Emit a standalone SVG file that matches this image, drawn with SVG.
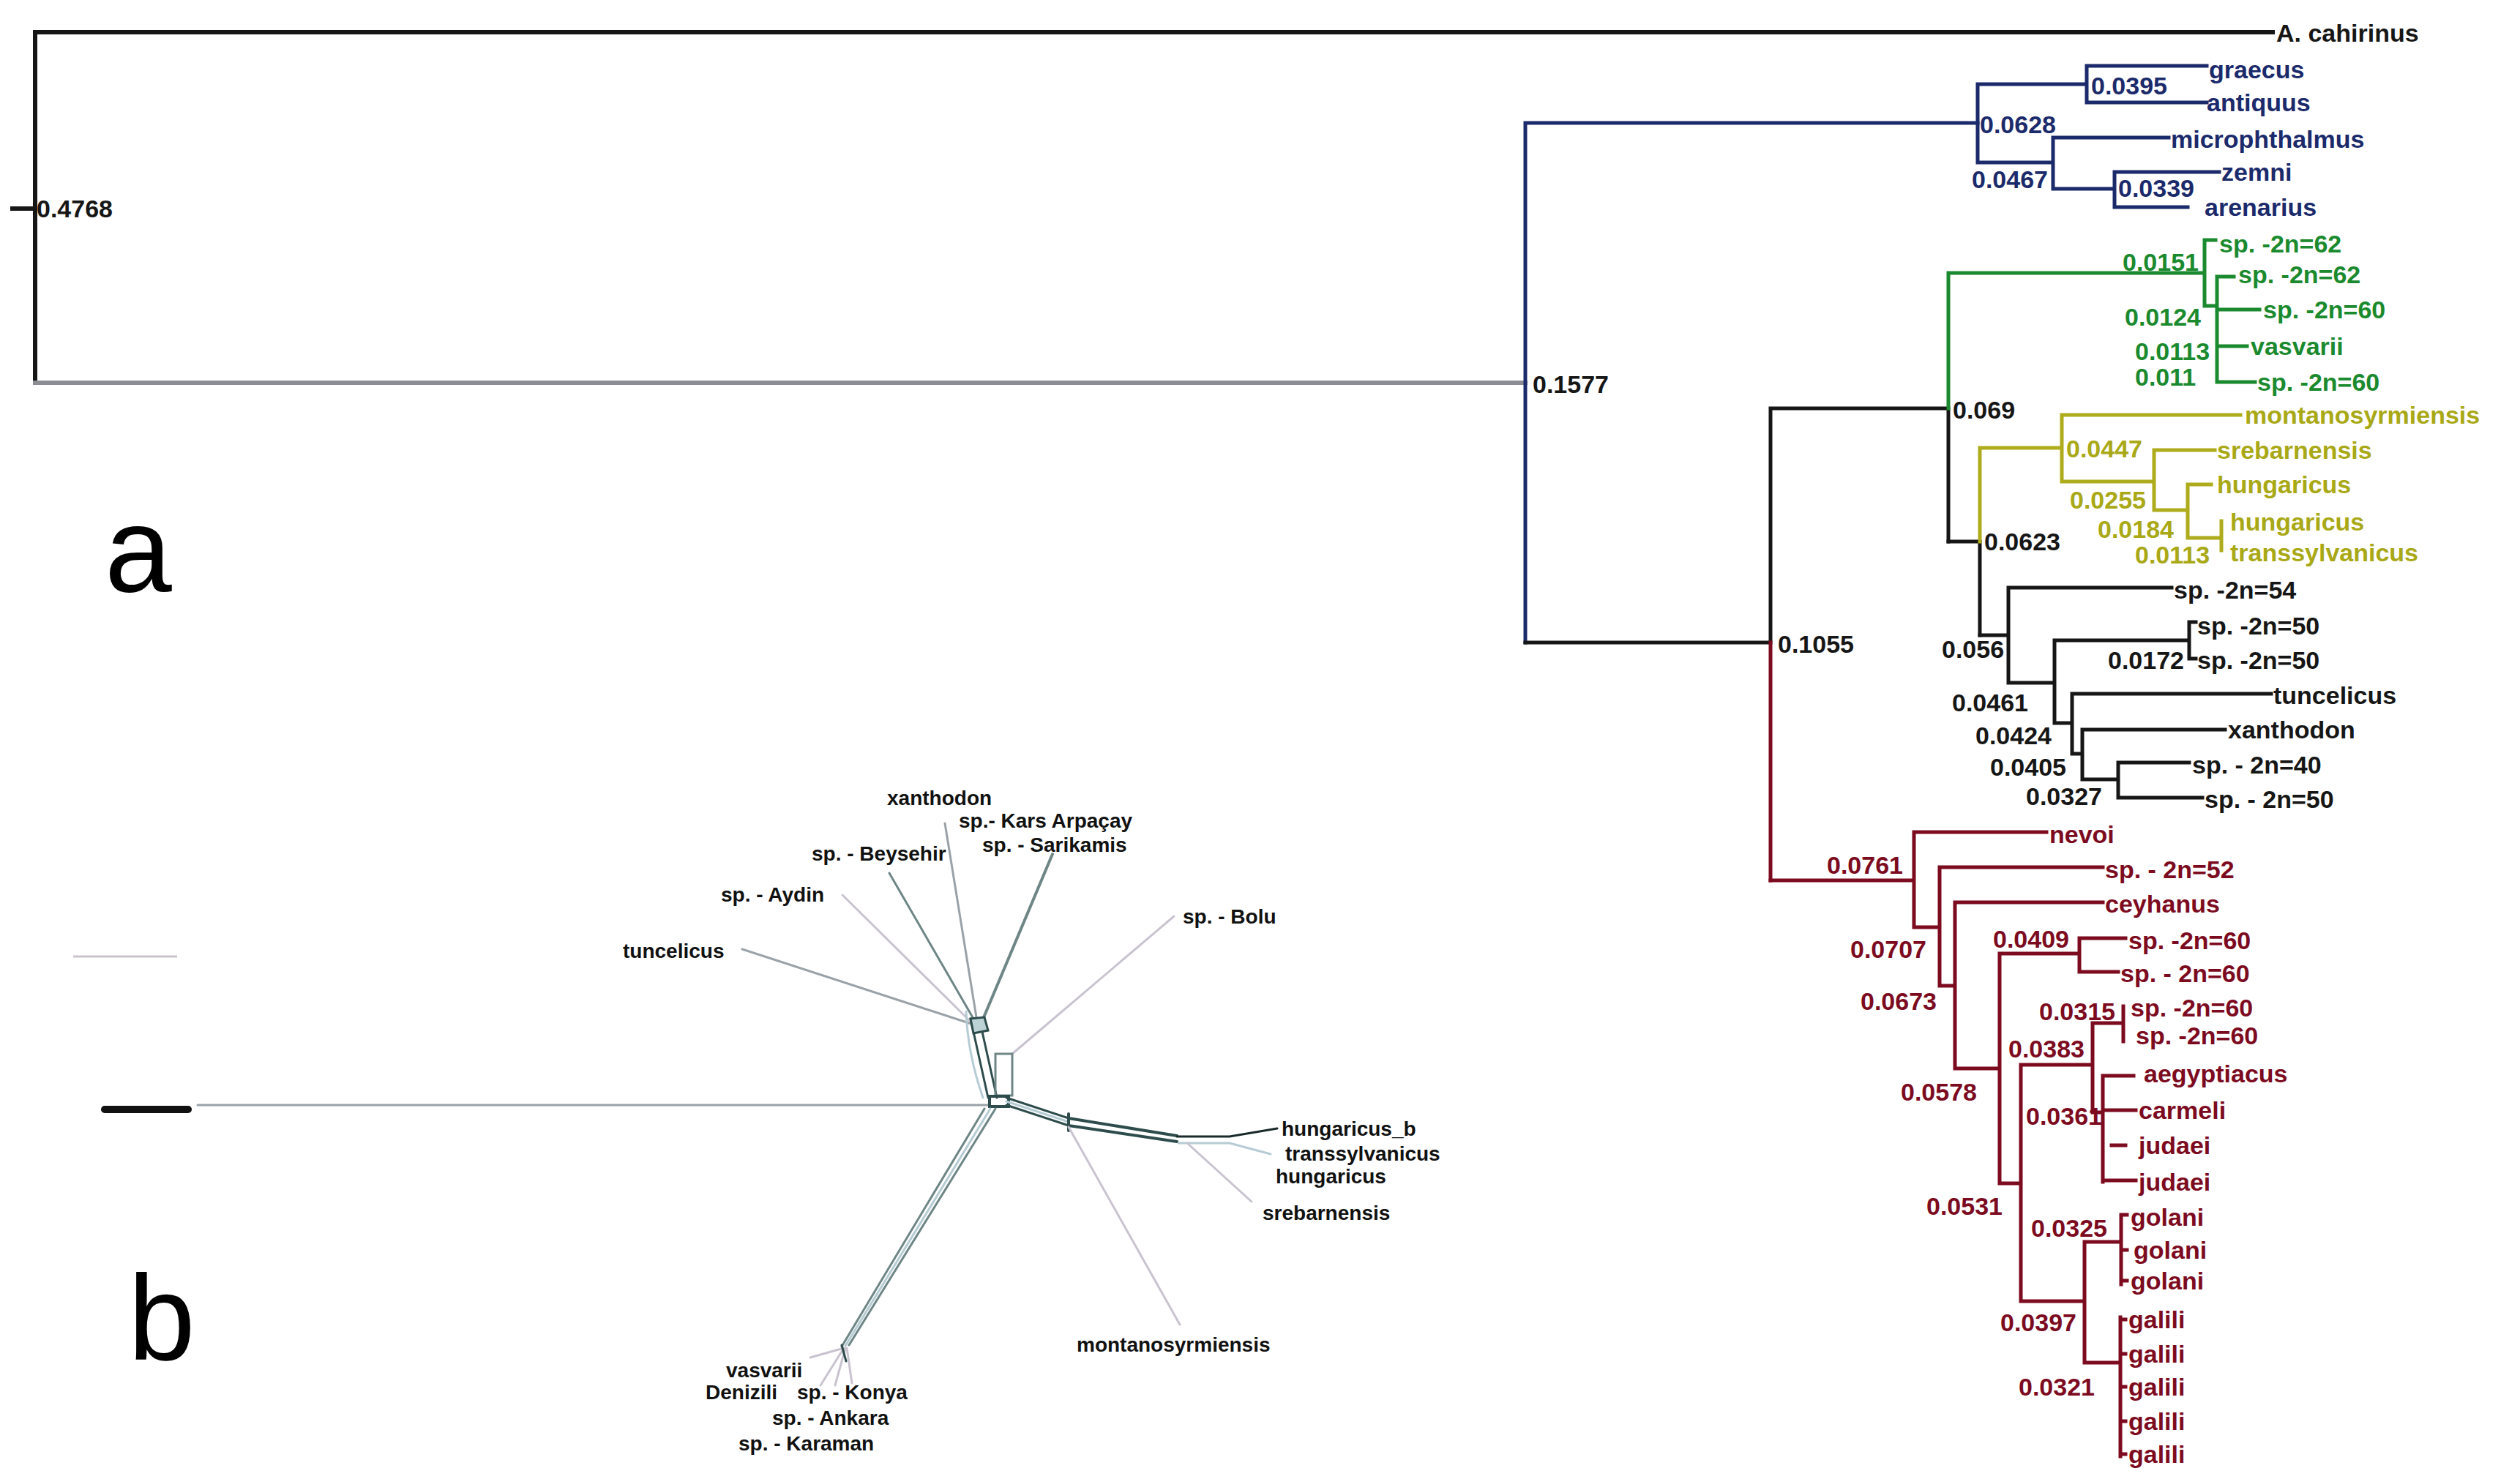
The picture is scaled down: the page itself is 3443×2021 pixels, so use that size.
<svg xmlns="http://www.w3.org/2000/svg" width="3443" height="2021" viewBox="0 0 3443 2021">
<style>
.t{font-family:"Liberation Sans",Arial,sans-serif;font-weight:bold;font-size:34px}
.nt{font-family:"Liberation Sans",Arial,sans-serif;font-weight:bold;font-size:28px;fill:#111}
.big{font-family:"Liberation Sans",Arial,sans-serif;font-size:165px;fill:#000}
.e{fill:none;stroke-width:5;stroke-linecap:square}
.k{stroke:#161616}.kf{fill:#161616}
.g{stroke:#8c8c94}
.bl{stroke:#1b2a6b}.blf{fill:#1b2a6b}
.gr{stroke:#1b8a2e}.grf{fill:#1b8a2e}
.y{stroke:#aeac1c}.yf{fill:#a9a816}
.r{stroke:#7d0b1f}.rf{fill:#7d0b1f}
.w{fill:none;stroke-width:3;stroke-linecap:round}
.w1{stroke:#9aa2a8}.w2{stroke:#c9c3d0}.w3{stroke:#6f8686}.w4{stroke:#2e4c4c}.w5{stroke:#b6ccd4}
</style>
<rect width="3443" height="2021" fill="#fff"/>

<g id="connectors">
  <path class="e k" d="M17,285H48M48,44V523M48,44H3105" style="stroke-width:6"/>
  <path class="e g" d="M48,523H2084" style="stroke-width:6"/>
  <path class="e bl" d="M2084,168V878M2084,168H2702"/>
  <path class="e bl" d="M2702,115V222M2702,115H2851M2851,90V140M2851,90H3015M2851,140H3015M2702,222H2805M2805,188V258M2805,188H2963M2805,258H2889M2889,235V283M2889,235H3032M2889,283H2989"/>
  <path class="e k" d="M2084,878H2419M2419,558V878M2419,558H2662M2662,558V740"/>
  <path class="e r" d="M2419,878V1203"/>
  <path class="e gr" d="M2662,373V558M2662,373H3012M3012,328V418M3012,328H3027M3012,418H3029M3029,378V522M3029,378H3052M3029,423H3087M3029,473H3070M3029,522H3081"/>
  <path class="e k" d="M2662,740H2705M2705,740V868"/>
  <path class="e y" d="M2705,612V740M2705,612H2817M2817,567V658M2817,567H3061M2817,658H2943M2943,615V697M2943,615H3026M2943,697H2989M2989,662V735M2989,662H3021M2989,735H3035M3035,712V752"/>
  <path class="e k" d="M2705,868H2744M2744,803V933M2744,803H2967M2744,933H2807M2807,875V988M2807,875H2991M2991,850V900M2991,850H3000M2991,900H3000M2807,988H2831M2831,948V1030M2831,948H3103M2831,1030H2845M2845,997V1065M2845,997H3040M2845,1065H2894M2894,1042V1090M2894,1042H2991M2894,1090H3009"/>
  <path class="e r" d="M2419,1203H2615M2615,1137V1267M2615,1137H2796M2615,1267H2650M2650,1185V1347M2650,1185H2873M2650,1347H2671M2671,1233V1460M2671,1233H2873M2671,1460H2732M2732,1303V1617M2732,1303H2841M2841,1282V1328M2841,1282H2904M2841,1328H2894M2732,1617H2761M2761,1455V1778M2761,1455H2859M2859,1398V1520M2859,1398H2901M2901,1375V1423M2859,1520H2873M2873,1470V1615M2873,1470H2915M2873,1517H2918M2885,1565H2904M2873,1613H2918M2761,1778H2848M2848,1697V1862M2848,1697H2898M2898,1660V1755M2898,1660H2906M2898,1708H2906M2898,1750H2906M2848,1862H2897M2897,1800V1990M2897,1803H2904M2897,1850H2904M2897,1895H2904M2897,1942H2904M2897,1987H2904"/>

  <path d="M100,1307H242" stroke="#cbc3cc" stroke-width="3"/>
  <path d="M143,1516H257" stroke="#111" stroke-width="10" stroke-linecap="round"/>
  <path class="w w1" d="M270,1510H1352"/>
  <path class="w w1" d="M1330,1400L1014,1297"/>
  <path class="w w2" d="M1325,1395L1151,1223"/>
  <path class="w w3" d="M1330,1392L1215,1193"/>
  <path class="w w1" d="M1334,1390L1291,1125"/>
  <path class="w w3" d="M1342,1395L1438,1167" style="stroke-width:4"/>
  <path class="w w2" d="M1383,1440L1604,1252"/>
  <path class="w w4" d="M1350,1500L1326,1392M1362,1500L1338,1392"/>
  <path class="w w5" d="M1343,1500Q1322,1440 1320,1382"/>
  <path class="w w4" d="M1326,1392L1345,1390L1350,1408L1330,1412Z" style="fill:#bcd2d4"/>
  <path class="w w3" d="M1360,1440H1383V1497H1360Z"/>
  <path class="w w4" d="M1352,1498H1378V1512H1352Z" style="stroke-width:4"/>
  <path class="w w3" d="M1345,1515L1150,1840M1360,1515L1160,1838"/>
  <path class="w w5" d="M1353,1515L1155,1839"/>
  <path class="w w4" d="M1375,1500L1460,1528M1375,1510L1460,1538"/>
  <path class="w w5" d="M1375,1505L1460,1533"/>
  <path class="w w4" d="M1460,1528L1608,1552M1460,1538L1608,1560M1460,1522V1545" style="stroke-width:4"/>
  <path class="w" d="M1608,1553H1680L1745,1542" stroke="#1a2a2a"/>
  <path class="w w5" d="M1610,1562H1680L1736,1577"/>
  <path class="w w2" d="M1622,1562L1710,1642"/>
  <path class="w w2" d="M1460,1540L1612,1810"/>
  <path class="w w2" d="M1153,1842L1107,1855M1153,1842L1121,1893M1155,1842L1141,1893M1157,1842L1164,1890"/>
  <path class="w w4" d="M1150,1838L1156,1860"/>
</g>

<g id="root-labels">
  <text class="t kf" x="50" y="297">0.4768</text>
  <text id="A_cahirinus" class="t kf" x="3110" y="57">A. cahirinus</text>
  <text class="t kf" x="2094" y="537">0.1577</text>
  <text class="t kf" x="2429" y="892">0.1055</text>
  <text class="big" x="143" y="808">a</text>
  <text class="big" x="175" y="1858">b</text>
</g>

<g id="blue-clade" class="t blf">
  <text id="graecus" x="3018" y="107">graecus</text>
  <text id="antiquus" x="3015" y="152">antiquus</text>
  <text id="microphthalmus" x="2966" y="202">microphthalmus</text>
  <text id="zemni" x="3035" y="247">zemni</text>
  <text id="arenarius" x="3012" y="295">arenarius</text>
  <text x="2857" y="129">0.0395</text>
  <text x="2705" y="182">0.0628</text>
  <text x="2694" y="257">0.0467</text>
  <text x="2894" y="269">0.0339</text>
</g>

<g id="green-clade" class="t grf">
  <text x="3032" y="345">sp. -2n=62</text>
  <text x="3058" y="387">sp. -2n=62</text>
  <text x="3092" y="435">sp. -2n=60</text>
  <text x="3075" y="485">vasvarii</text>
  <text x="3084" y="534">sp. -2n=60</text>
  <text x="2900" y="370">0.0151</text>
  <text x="2903" y="445">0.0124</text>
  <text x="2917" y="492">0.0113</text>
  <text x="2917" y="527">0.011</text>
</g>

<g id="yellow-clade" class="t yf">
  <text x="3067" y="579">montanosyrmiensis</text>
  <text x="3029" y="627">srebarnensis</text>
  <text x="3029" y="674">hungaricus</text>
  <text x="3047" y="725">hungaricus</text>
  <text x="3047" y="767">transsylvanicus</text>
  <text x="2823" y="625">0.0447</text>
  <text x="2828" y="695">0.0255</text>
  <text x="2866" y="735">0.0184</text>
  <text x="2917" y="770">0.0113</text>
</g>

<g id="black-clade" class="t kf">
  <text x="2668" y="572">0.069</text>
  <text x="2711" y="752">0.0623</text>
  <text x="2970" y="818">sp. -2n=54</text>
  <text x="3002" y="867">sp. -2n=50</text>
  <text x="3002" y="914">sp. -2n=50</text>
  <text x="3106" y="962">tuncelicus</text>
  <text x="3044" y="1009">xanthodon</text>
  <text x="2995" y="1057">sp. - 2n=40</text>
  <text x="3012" y="1104">sp. - 2n=50</text>
  <text x="2653" y="899">0.056</text>
  <text x="2880" y="914">0.0172</text>
  <text x="2667" y="972">0.0461</text>
  <text x="2699" y="1017">0.0424</text>
  <text x="2719" y="1060">0.0405</text>
  <text x="2768" y="1100">0.0327</text>
</g>

<g id="red-clade" class="t rf">
  <text x="2800" y="1152">nevoi</text>
  <text x="2876" y="1200">sp. - 2n=52</text>
  <text x="2876" y="1247">ceyhanus</text>
  <text x="2908" y="1297">sp. -2n=60</text>
  <text x="2897" y="1342">sp. - 2n=60</text>
  <text x="2911" y="1389">sp. -2n=60</text>
  <text x="2918" y="1427">sp. -2n=60</text>
  <text x="2929" y="1479">aegyptiacus</text>
  <text x="2922" y="1529">carmeli</text>
  <text x="2922" y="1577">judaei</text>
  <text x="2922" y="1627">judaei</text>
  <text x="2911" y="1675">golani</text>
  <text x="2915" y="1720">golani</text>
  <text x="2911" y="1762">golani</text>
  <text x="2908" y="1815">galili</text>
  <text x="2908" y="1862">galili</text>
  <text x="2908" y="1907">galili</text>
  <text x="2908" y="1954">galili</text>
  <text x="2908" y="1999">galili</text>
  <text x="2496" y="1194">0.0761</text>
  <text x="2528" y="1309">0.0707</text>
  <text x="2723" y="1295">0.0409</text>
  <text x="2542" y="1380">0.0673</text>
  <text x="2786" y="1394">0.0315</text>
  <text x="2744" y="1445">0.0383</text>
  <text x="2597" y="1504">0.0578</text>
  <text x="2768" y="1537">0.0361</text>
  <text x="2632" y="1660">0.0531</text>
  <text x="2775" y="1690">0.0325</text>
  <text x="2733" y="1819">0.0397</text>
  <text x="2758" y="1907">0.0321</text>
</g>

<g id="network-labels" class="nt">
  <text x="1212" y="1100">xanthodon</text>
  <text x="1310" y="1131">sp.- Kars Arpaçay</text>
  <text x="1342" y="1164">sp. - Sarikamis</text>
  <text x="1109" y="1176">sp. - Beysehir</text>
  <text x="985" y="1232">sp. - Aydin</text>
  <text x="851" y="1309">tuncelicus</text>
  <text x="1616" y="1262">sp. - Bolu</text>
  <text x="1751" y="1552">hungaricus_b</text>
  <text x="1756" y="1586">transsylvanicus</text>
  <text x="1743" y="1617">hungaricus</text>
  <text x="1725" y="1667">srebarnensis</text>
  <text x="1471" y="1847">montanosyrmiensis</text>
  <text x="992" y="1882">vasvarii</text>
  <text x="964" y="1912">Denizili</text>
  <text x="1089" y="1912">sp. - Konya</text>
  <text x="1055" y="1947">sp. - Ankara</text>
  <text x="1009" y="1982">sp. - Karaman</text>
</g>
</svg>
